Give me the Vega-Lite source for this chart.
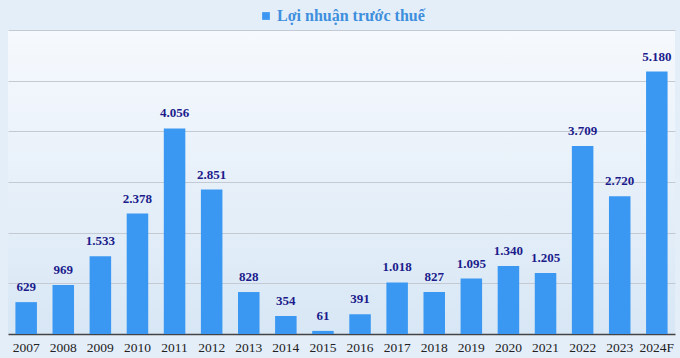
{
  "$schema": "https://vega.github.io/schema/vega-lite/v6.json",
  "width": 680,
  "height": 358,
  "autosize": {"type": "fit", "contains": "padding"},
  "padding": {"left": 8, "right": 5, "top": 8, "bottom": 4},
  "background": "#e4eef9",
  "config": {
    "view": {"stroke": null, "fill": {"gradient": "linear", "x1": 0, "y1": 0, "x2": 0, "y2": 1, "stops": [{"offset": 0, "color": "#f6f9fd"}, {"offset": 1, "color": "#d8e7f5"}]}},
    "locale": {"number": {"decimal": ",", "thousands": ".", "grouping": [3], "currency": ["", ""]}},
    "legend": {"layout": {"top": {"anchor": "middle"}}}
  },
  "data": {
    "values": [
      {"year": "2007", "value": 629},
      {"year": "2008", "value": 969},
      {"year": "2009", "value": 1533},
      {"year": "2010", "value": 2378},
      {"year": "2011", "value": 4056},
      {"year": "2012", "value": 2851},
      {"year": "2013", "value": 828},
      {"year": "2014", "value": 354},
      {"year": "2015", "value": 61},
      {"year": "2016", "value": 391},
      {"year": "2017", "value": 1018},
      {"year": "2018", "value": 827},
      {"year": "2019", "value": 1095},
      {"year": "2020", "value": 1340},
      {"year": "2021", "value": 1205},
      {"year": "2022", "value": 3709},
      {"year": "2023", "value": 2720},
      {"year": "2024F", "value": 5180}
    ]
  },
  "encoding": {
    "x": {
      "field": "year", "type": "nominal", "sort": null,
      "scale": {"paddingInner": 0.42, "paddingOuter": 0.2},
      "axis": {"title": null, "labelAngle": 0, "labelFont": "Liberation Serif", "labelFontSize": 13.5, "labelColor": "#222222", "ticks": false, "domainColor": "#444444", "domainWidth": 1.5, "labelPadding": 6}
    },
    "y": {
      "field": "value", "type": "quantitative",
      "scale": {"domain": [0, 6000], "nice": false},
      "axis": {"title": null, "labels": false, "ticks": false, "domain": false, "values": [1000, 2000, 3000, 4000, 5000, 6000], "gridColor": "#c3cad4", "gridWidth": 1}
    }
  },
  "layer": [
    {
      "mark": {"type": "bar", "color": "#3a98f2"},
      "encoding": {
        "color": {
          "datum": "Lợi nhuận trước thuế", "type": "nominal",
          "scale": {"range": ["#3a98f2"]},
          "legend": {"title": null, "orient": "top", "symbolType": "square", "symbolSize": 60, "labelFont": "Liberation Serif", "labelFontSize": 16, "labelFontWeight": "bold", "labelColor": "#3d8fdd", "symbolStrokeWidth": 0, "labelOffset": 3, "offset": 6}
        }
      }
    },
    {
      "mark": {"type": "text", "dy": -8, "baseline": "bottom", "font": "Liberation Serif", "fontSize": 13, "fontWeight": "bold", "color": "#1b1b8c"},
      "encoding": {"text": {"field": "value", "type": "quantitative", "format": ",d"}}
    }
  ]
}
